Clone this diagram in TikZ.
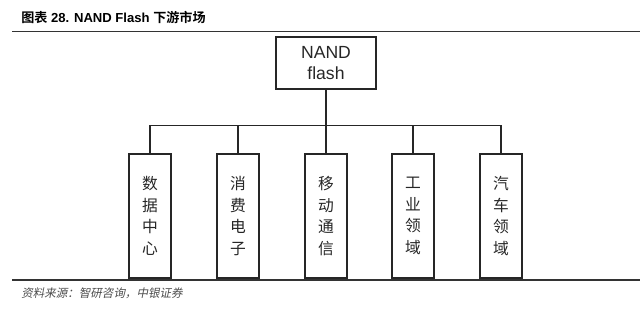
\documentclass[tikz,border=0pt]{standalone}
\usepackage{fontspec}
\setmainfont{Liberation Sans}
\newfontfamily\cjk[BoldFont={Noto Sans CJK SC Bold}]{Noto Sans CJK SC}
\newfontfamily\cjkslant[FakeSlant=0.2]{Noto Sans CJK SC}
\usepackage{tikz}
\usetikzlibrary{positioning}

\begin{document}
\begin{tikzpicture}[
      x=0.025cm, y=-0.025cm,
      ln/.style={line width=1.3pt, black!85},
      root/.style={draw, ln, align=center, minimum width=2.5cm, minimum height=1.3cm,
        inner sep=1pt, font=\fontsize{12.5}{15}\selectfont},
      mkt/.style={draw, ln, align=center, minimum width=1.05cm, minimum height=3.1cm,
        inner sep=0pt, font=\cjk\fontsize{11.2}{15.4}\selectfont},
      rule/.style={line width=0.9pt, black!80},
    ]
    \useasboundingbox (0,0) rectangle (640,311);
    % title and rules
    \node[anchor=west, inner sep=0pt] (title) at (21,17)
      {\fontsize{9.3}{11}\selectfont\bfseries{\cjk 图表} 28. NAND Flash {\cjk 下游市场}};
    \coordinate (tl) at (12,31.5);
    \coordinate (tr) at (640,31.5);
    \draw[rule] (tl) -- (tr);
    \coordinate (bl) at (12,280);
    \coordinate (br) at (640,280);
    \draw[rule] (bl) -- (br);
    % tree
    \node[root] (nand) at (326,63) {NAND\\flash};
    \coordinate (bus) at (326,125.5);
    \node[mkt] (dc) at (150,216) {数\\据\\中\\心};
    \node[mkt] (ce) at (238,216) {消\\费\\电\\子};
    \node[mkt] (mc) at (326,216) {移\\动\\通\\信};
    \node[mkt] (ind) at (413,216) {工\\业\\领\\域};
    \node[mkt] (car) at (501,216) {汽\\车\\领\\域};
    \draw[ln] (nand) -- (bus);
    \draw[ln] (bus) -| (dc.north);
    \draw[ln] (bus) -| (ce.north);
    \draw[ln] (bus) -- (mc.north);
    \draw[ln] (bus) -| (ind.north);
    \draw[ln] (bus) -| (car.north);
    % source
    \node[anchor=west, inner sep=0pt, text=black!70] (src) at (21,293)
      {\cjkslant\fontsize{8.2}{10}\selectfont 资料来源：智研咨询，中银证券};
  \end{tikzpicture}
\end{document}
